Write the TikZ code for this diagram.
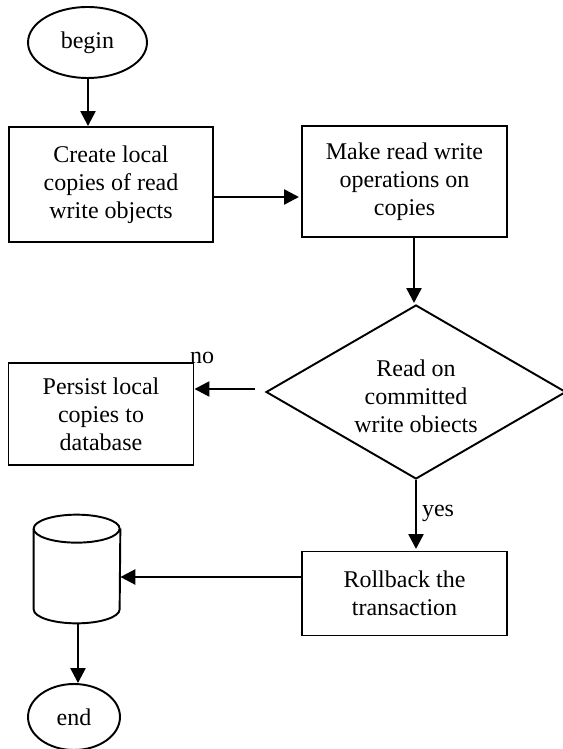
\documentclass[tikz,border=0pt]{standalone}
\usepackage{fontspec}
\setmainfont{Liberation Serif}
\usetikzlibrary{shapes.geometric,arrows.meta}
\begin{document}
\begin{tikzpicture}
                [x=0.02cm, y=-0.02cm,
        nodeBox/.style={rectangle, draw, line width=1.1pt, align=center, font=\fontsize{13.66pt}{15.9pt}\selectfont, inner sep=0pt},
        nodeOval/.style={ellipse, draw, line width=1.1pt, font=\fontsize{13.66pt}{15.9pt}\selectfont, inner sep=0pt},
        link/.style={line width=1.4pt, -{Triangle[length=0.3cm, width=0.3cm]}},
        label/.style={font=\fontsize{13.66pt}{15.9pt}\selectfont, inner sep=0pt, align=center}]
                \useasboundingbox (0,0) rectangle (563,749);
                \node[nodeOval, minimum width=2.38cm, minimum height=1.42cm] (begin) at (87.5,42.5) {begin};
                \node[nodeBox, minimum width=4.08cm, minimum height=2.3cm] (create) at (111,184.5) {Create local\\copies of read\\write objects};
                \node[nodeBox, minimum width=4.1cm, minimum height=2.22cm] (make) at (404.5,181.5) {Make read write\\operations on\\copies};
                \node[diamond, draw, line width=1.1pt, shape aspect=1.72, minimum width=6cm, minimum height=3.48cm, inner sep=0pt] (read) at (416,392) {};
                \node[label] (readText) at (416,396) {Read on\\committed\\write obiects};
                \node[nodeBox, minimum width=3.7cm, minimum height=2.04cm] (persist) at (101,414) {Persist local\\copies to\\database};
                \node[nodeBox, minimum width=4.1cm, minimum height=1.68cm] (rollback) at (404.5,593.5) {Rollback the\\transaction};
                \node[inner sep=0pt, minimum width=1.72cm, minimum height=2.16cm] (store) at (77,569) {};
                \draw[line width=1.1pt] ([yshift=-0.28cm]store.north west) arc[start angle=180, end angle=-180, x radius=0.86cm, y radius=0.28cm];
                \draw[line width=1.1pt] ([yshift=-0.28cm]store.north west) -- ([yshift=0.28cm]store.south west) arc[start angle=180, end angle=360, x radius=0.86cm, y radius=0.28cm] -- ([yshift=-0.28cm]store.north east);
                \node[nodeOval, minimum width=1.84cm, minimum height=1.32cm] (end) at (74,717) {end};
                \coordinate (readLeft) at (255,389);
                \coordinate (makeEnd) at (414,303);
                \draw[link] (begin.south -| 88,0) -- (create.north -| 88,0);
                \draw[link] (create.east |- 0,197) -- (299,197);
                \draw[link] (make.south -| makeEnd) -- (makeEnd);
                \draw[link] (readLeft) -- (persist.east |- readLeft);
                \draw[link] (read.south) -- (read.south |- 0,549);
                \draw[link] (rollback.west |- 0,577) -- (store.east |- 0,577);
                \draw[link] (store.south -| 78,0) -- (end.north -| 78,0);
                \node[label] (no) at (202,358) {no};
                \node[label] (yes) at (438,513) {yes};
            \end{tikzpicture}
\end{document}
